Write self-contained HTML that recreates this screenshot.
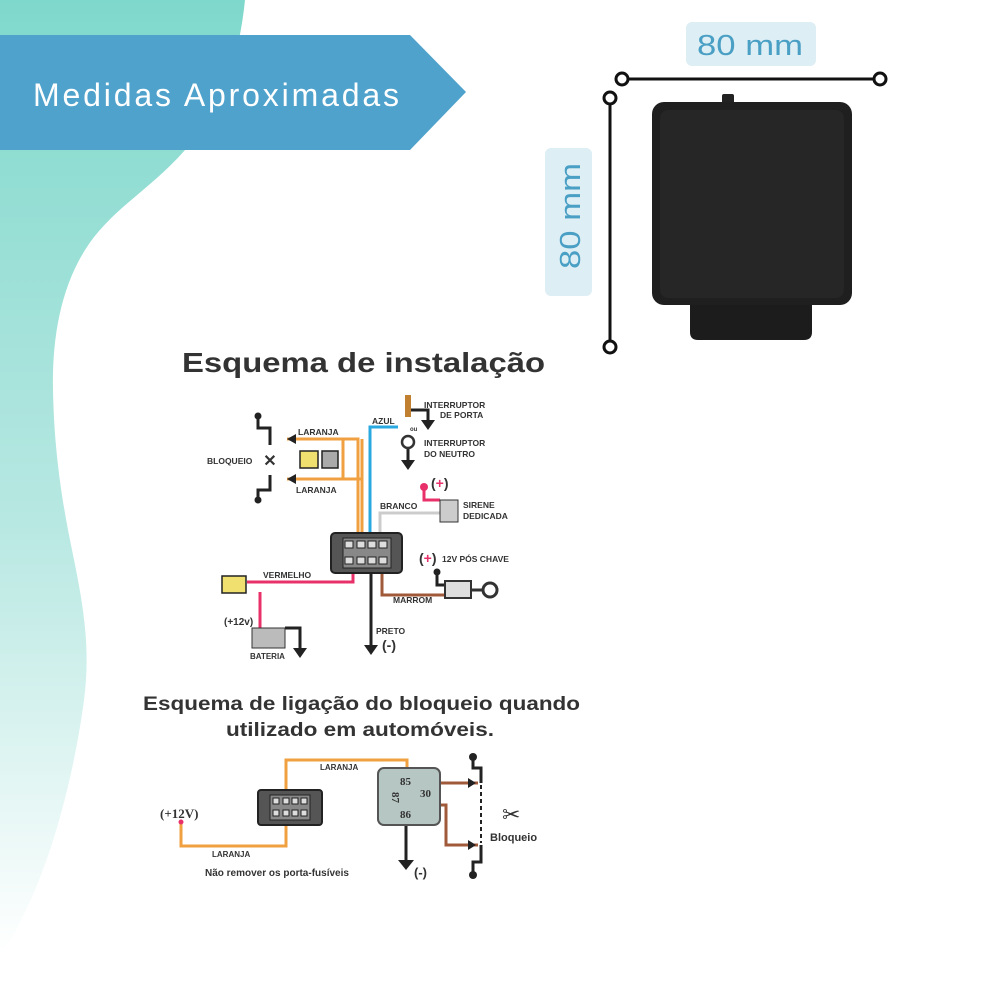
<!DOCTYPE html>
<html><head><meta charset="utf-8"><style>
html,body{margin:0;padding:0;background:#fff}
body{width:1000px;height:1000px;position:relative;overflow:hidden;font-family:"Liberation Sans",sans-serif}
svg{position:absolute;left:0;top:0}
.b{font-family:"Liberation Sans",sans-serif;font-weight:bold;fill:#333}
.s{font-family:"Liberation Serif",serif;font-weight:bold;fill:#333}
</style></head><body>
<svg width="1000" height="1000" viewBox="0 0 1000 1000">
<defs>
<linearGradient id="tg" x1="0" y1="0" x2="0" y2="1">
<stop offset="0" stop-color="#7fd8cc"/><stop offset="0.55" stop-color="#b8e8e2"/><stop offset="1" stop-color="#ffffff"/>
</linearGradient>
</defs>
<path d="M0,0 L245,0 C238,70 215,120 185,150 C150,190 110,210 85,250 C60,290 52,340 53,390 C54,450 62,500 70,540 C80,590 92,640 84,700 C76,760 60,830 35,890 C20,925 8,945 0,955 Z" fill="url(#tg)"/>
<polygon points="0,35 410,35 466,92 410,150 0,150" fill="#4fa2cb"/>
<text x="33" y="106" font-size="32" fill="#fff" font-family="Liberation Sans,sans-serif" textLength="366" lengthAdjust="spacing">Medidas Aproximadas</text>

<!-- dimension -->
<rect x="686" y="22" width="130" height="44" rx="6" fill="#ddeef5"/>
<text x="697" y="55" font-size="29" fill="#4a9fc4" textLength="106" lengthAdjust="spacingAndGlyphs">80 mm</text>
<rect x="545" y="148" width="47" height="148" rx="6" fill="#ddeef5"/>
<text transform="translate(580,269) rotate(-90)" font-size="29" fill="#4a9fc4" textLength="106" lengthAdjust="spacingAndGlyphs">80 mm</text>
<line x1="622" y1="79" x2="880" y2="79" stroke="#111" stroke-width="3"/>
<circle cx="622" cy="79" r="6" fill="#fff" stroke="#111" stroke-width="3"/>
<circle cx="880" cy="79" r="6" fill="#fff" stroke="#111" stroke-width="3"/>
<line x1="610" y1="98" x2="610" y2="347" stroke="#111" stroke-width="3"/>
<circle cx="610" cy="98" r="6" fill="#fff" stroke="#111" stroke-width="3"/>
<circle cx="610" cy="347" r="6" fill="#fff" stroke="#111" stroke-width="3"/>

<!-- device -->
<rect x="722" y="94" width="12" height="12" rx="2" fill="#222"/>
<path d="M690,295 L812,295 L812,332 Q812,340 804,340 L698,340 Q690,340 690,332 Z" fill="#1c1c1c"/>
<rect x="652" y="102" width="200" height="203" rx="12" fill="#1f1f1f"/>
<rect x="660" y="110" width="184" height="188" rx="8" fill="#262626"/>

<!-- titles -->
<text x="182" y="372" font-size="28" class="b" textLength="363" lengthAdjust="spacingAndGlyphs">Esquema de instalação</text>
<text x="143" y="710" font-size="19" class="b" textLength="437" lengthAdjust="spacingAndGlyphs">Esquema de ligação do bloqueio quando</text>
<text x="226" y="736" font-size="19" class="b" textLength="268" lengthAdjust="spacingAndGlyphs">utilizado em automóveis.</text>

<!-- top diagram wires -->
<g fill="none" stroke-width="3">
<path d="M287,439 L358,439 L358,550" stroke="#f0a040"/>
<path d="M287,479 L362,479" stroke="#f0a040"/>
<path d="M362,439 L362,550" stroke="#f0a040"/>
<path d="M343,439 L343,479" stroke="#f0a040"/>
<path d="M370,545 L370,427 L398,427" stroke="#2aa8e0"/>
<path d="M380,545 L380,513 L440,513" stroke="#ccc"/>
<path d="M353,562 L353,582 L247,582" stroke="#e8306a"/>
<path d="M260,592 L260,630" stroke="#e8306a"/>
<path d="M424,487 L424,500 L440,500" stroke="#e8306a"/>
<path d="M382,565 L382,595 L445,595" stroke="#a05a3a"/>
<path d="M371,565 L371,645" stroke="#222"/>
<path d="M437,572 L437,585 L445,585" stroke="#222"/>
<path d="M285,628 L300,628 L300,648" stroke="#222"/>
<path d="M410,410 L428,410 L428,420" stroke="#222"/>
<path d="M408,448 L408,460" stroke="#222"/>
<path d="M258,416 L258,428 L270,428 L270,445" stroke="#222"/>
<path d="M258,500 L258,490 L270,490 L270,475" stroke="#222"/>
</g>
<polygon points="287,439 296,434 296,444" fill="#222"/>
<polygon points="287,479 296,474 296,484" fill="#222"/>
<circle cx="258" cy="416" r="3.5" fill="#222"/><circle cx="258" cy="500" r="3.5" fill="#222"/>
<circle cx="424" cy="487" r="4" fill="#e8306a"/>
<circle cx="437" cy="572" r="3.5" fill="#222"/>
<polygon points="364,645 378,645 371,655" fill="#222"/>
<polygon points="293,648 307,648 300,658" fill="#222"/>
<polygon points="421,420 435,420 428,430" fill="#222"/>
<polygon points="401,460 415,460 408,470" fill="#222"/>
<text x="270" y="466" font-size="16" class="b" text-anchor="middle">✕</text>
<rect x="405" y="395" width="6" height="22" fill="#c08030"/>
<circle cx="408" cy="442" r="6" fill="#fff" stroke="#333" stroke-width="2.5"/>
<!-- connector -->
<rect x="331" y="533" width="71" height="40" rx="4" fill="#555" stroke="#222" stroke-width="2"/>
<rect x="343" y="538" width="48" height="30" fill="#888" stroke="#222"/>
<g fill="#ddd" stroke="#222"><rect x="345" y="541" width="8" height="7"/><rect x="357" y="541" width="8" height="7"/><rect x="368" y="541" width="8" height="7"/><rect x="379" y="541" width="8" height="7"/><rect x="345" y="557" width="8" height="7"/><rect x="357" y="557" width="8" height="7"/><rect x="368" y="557" width="8" height="7"/><rect x="379" y="557" width="8" height="7"/></g>
<!-- fuses -->
<g stroke="#222" stroke-width="1.5"><rect x="300" y="451" width="18" height="17" fill="#f0e070"/><rect x="322" y="451" width="16" height="17" fill="#aaa"/><rect x="222" y="576" width="24" height="17" fill="#f0e070"/></g>
<rect x="440" y="500" width="18" height="22" fill="#ccc" stroke="#333"/>
<rect x="445" y="581" width="26" height="17" fill="#ddd" stroke="#333" stroke-width="2"/>
<line x1="471" y1="590" x2="482" y2="590" stroke="#333" stroke-width="3"/>
<circle cx="490" cy="590" r="7" fill="#fff" stroke="#333" stroke-width="3"/>
<rect x="252" y="628" width="33" height="20" fill="#bbb" stroke="#333"/>
<!-- labels -->
<g class="b" font-size="8.5">
<text x="298" y="435">LARANJA</text><text x="296" y="493">LARANJA</text>
<text x="207" y="464">BLOQUEIO</text><text x="372" y="424">AZUL</text>
<text x="424" y="408">INTERRUPTOR</text><text x="440" y="418">DE PORTA</text>
<text x="424" y="446">INTERRUPTOR</text><text x="424" y="457">DO NEUTRO</text>
<text x="380" y="509">BRANCO</text><text x="463" y="508">SIRENE</text><text x="463" y="519">DEDICADA</text>
<text x="442" y="562">12V PÓS CHAVE</text>
<text x="263" y="578">VERMELHO</text><text x="393" y="603">MARROM</text>
<text x="376" y="634">PRETO</text><text x="224" y="625" font-size="10">(+12v)</text>
<text x="250" y="659" font-size="8">BATERIA</text>
<text x="410" y="431" font-size="6">ou</text>
</g>
<text x="431" y="488" font-size="14" class="b"><tspan>(</tspan><tspan fill="#e8306a">+</tspan><tspan>)</tspan></text>
<text x="419" y="563" font-size="14" class="b"><tspan>(</tspan><tspan fill="#e8306a">+</tspan><tspan>)</tspan></text>
<text x="382" y="650" font-size="14" class="b">(-)</text>

<!-- bottom diagram -->
<g fill="none" stroke-width="3">
<path d="M286,800 L286,760 L407,760 L407,775" stroke="#f0a040"/>
<path d="M286,812 L286,846 L181,846 L181,822" stroke="#f0a040"/>
<path d="M432,793 L432,783 L478,783" stroke="#a05a3a"/>
<path d="M385,805 L446,805 L446,845 L478,845" stroke="#a05a3a"/>
<path d="M406,820 L406,860" stroke="#222"/>
<path d="M473,757 L473,768 L481,768 L481,783" stroke="#222"/>
<path d="M473,875 L473,862 L481,862 L481,845" stroke="#222"/>
<path d="M481,785 L481,843" stroke="#222" stroke-dasharray="4,3" stroke-width="2"/>
</g>
<circle cx="181" cy="822" r="2.5" fill="#e8306a"/>
<circle cx="473" cy="757" r="4" fill="#222"/><circle cx="473" cy="875" r="4" fill="#222"/>
<polygon points="476,783 468,778 468,788" fill="#222"/><polygon points="476,845 468,840 468,850" fill="#222"/>
<polygon points="398,860 414,860 406,870" fill="#222"/>
<rect x="258" y="790" width="64" height="35" rx="3" fill="#555" stroke="#222" stroke-width="2"/>
<rect x="270" y="795" width="40" height="25" fill="#888" stroke="#222"/>
<g fill="#ddd" stroke="#222"><rect x="273" y="798" width="6" height="6"/><rect x="283" y="798" width="6" height="6"/><rect x="292" y="798" width="6" height="6"/><rect x="301" y="798" width="6" height="6"/><rect x="273" y="810" width="6" height="6"/><rect x="283" y="810" width="6" height="6"/><rect x="292" y="810" width="6" height="6"/><rect x="301" y="810" width="6" height="6"/></g>
<rect x="378" y="768" width="62" height="57" rx="6" fill="#b6c6c2" stroke="#555" stroke-width="2"/>
<g class="s" font-size="11"><text x="400" y="785">85</text><text x="420" y="797">30</text><text x="400" y="818">86</text><text transform="translate(392,792) rotate(90)">87</text></g>
<text x="160" y="818" font-size="13" class="s">(+12V)</text>
<text x="502" y="822" font-size="22" fill="#333">✂</text>
<g class="b"><text x="320" y="770" font-size="8">LARANJA</text><text x="212" y="857" font-size="8">LARANJA</text>
<text x="205" y="876" font-size="10">Não remover os porta-fusíveis</text>
<text x="490" y="841" font-size="11">Bloqueio</text><text x="414" y="877" font-size="13">(-)</text></g>
</svg>
</body></html>
